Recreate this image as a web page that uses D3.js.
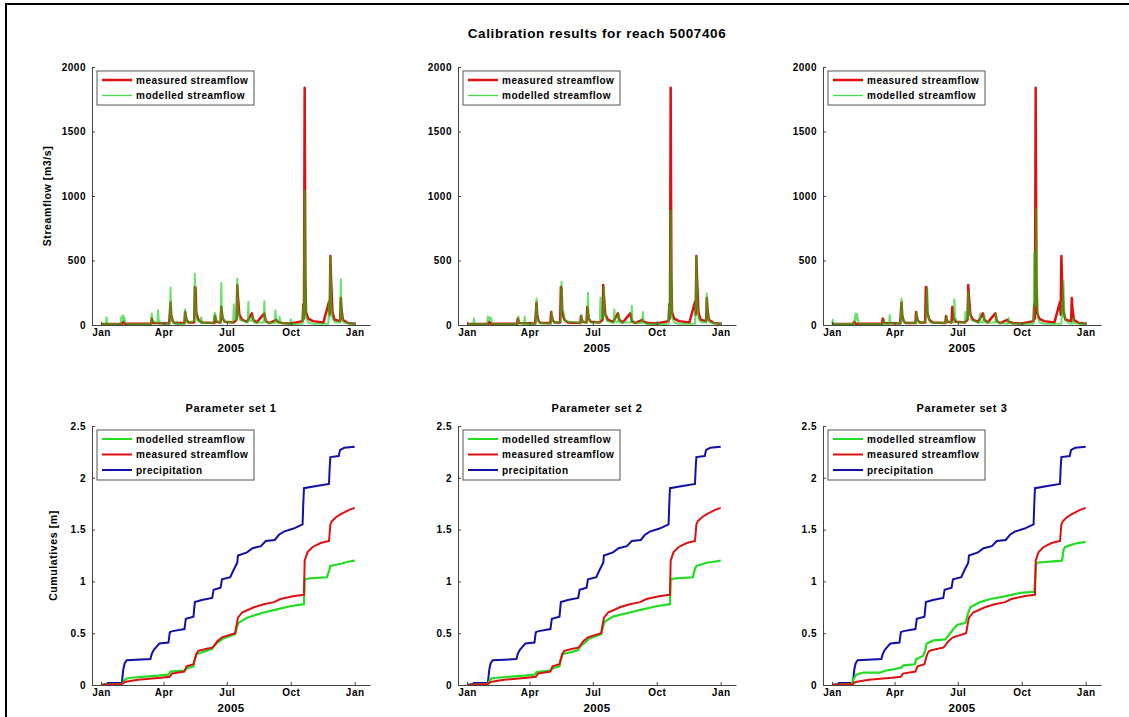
<!DOCTYPE html>
<html>
<head>
<meta charset="utf-8">
<script src="https://cdn.jsdelivr.net/npm/d3@7"></script>
<style>
  body { margin: 0; background: #fff; }
  svg text { font-family: "Liberation Sans", Arial, sans-serif; font-weight: bold; fill: #000; }
</style>
</head>
<body>
<div id="chart"></div>
<script>
// day of year 2005 -> value
const measuredFlow = [
  [0,8],[30,8],[32,25],[34,10],[72,10],[73,50],[75,15],[98,12],[100,175],[101,80],[103,30],[106,15],
  [120,15],[121,100],[123,40],[126,20],[134,20],[135,295],[136,290],[137,100],[140,40],[145,20],
  [163,15],[164,70],[166,25],[172,20],[173,140],[175,50],[178,25],[191,20],[195,40],[196,310],
  [197,220],[199,80],[203,40],[210,25],[217,90],[219,40],[224,20],[235,90],[237,30],[242,15],
  [252,40],[254,25],[260,15],[273,12],[290,30],[291,160],[292,50],[293,1840],[294,385],[295,100],
  [298,50],[305,30],[320,20],[328,180],[329,80],[330,535],[331,350],[333,100],[336,40],[344,30],
  [345,210],[346,120],[348,40],[355,15],[365,10]
];
const modelledFlow1 = [
  [0,5],[7,5],[8,60],[9,10],[28,8],[29,60],[30,40],[31,75],[32,30],[33,65],[34,50],[35,15],[40,5],
  [72,5],[73,90],[74,30],[81,15],[82,115],[83,40],[86,10],[99,10],[100,290],[101,60],[104,15],
  [108,10],[109,25],[110,8],[120,10],[121,120],[122,60],[124,20],[134,30],[135,397],[136,150],
  [138,40],[143,20],[144,60],[146,15],[162,15],[163,80],[164,95],[166,30],[172,20],[173,325],
  [174,80],[177,25],[190,20],[191,160],[192,50],[195,40],[196,360],[197,120],[200,40],[211,20],
  [212,180],[213,40],[217,30],[218,70],[220,20],[234,20],[235,185],[236,40],[240,15],[250,15],
  [251,115],[252,30],[256,15],[257,64],[258,15],[272,8],[273,44],[274,8],[290,10],[291,150],
  [292,40],[293,1040],[294,380],[295,60],[298,20],[305,10],[327,10],[328,180],[329,60],[330,530],
  [331,200],[333,50],[337,20],[344,20],[345,355],[346,80],[349,20],[365,5]
];
const modelledFlow2 = [
  [0,5],[9,5],[10,50],[11,8],[29,5],[30,65],[31,30],[33,60],[35,50],[36,10],[73,5],[74,65],[75,20],
  [82,8],[83,65],[84,10],[99,10],[100,205],[101,60],[104,15],[121,10],[122,103],[123,40],[126,15],
  [135,30],[136,335],[137,120],[139,100],[141,30],[164,15],[165,77],[166,30],[173,20],[174,250],
  [175,60],[178,20],[191,20],[192,214],[193,50],[196,60],[197,300],[198,100],[201,30],[211,15],
  [212,120],[213,30],[217,20],[218,90],[220,20],[236,20],[237,150],[238,40],[242,15],[252,15],
  [253,100],[254,25],[258,10],[273,5],[274,25],[275,5],[290,10],[291,160],[292,50],[293,888],
  [294,390],[295,60],[298,20],[305,10],[328,10],[329,180],[330,530],[331,200],[333,50],[337,20],
  [344,20],[345,245],[346,80],[349,20],[365,5]
];
const modelledFlow3 = [
  [0,5],[1,40],[2,8],[32,8],[33,60],[34,90],[35,40],[36,85],[37,50],[39,10],[74,5],[75,40],[76,10],
  [82,8],[83,77],[84,15],[99,10],[100,205],[101,80],[104,20],[121,15],[122,100],[123,40],[126,15],
  [135,30],[136,180],[137,290],[138,80],[141,20],[164,15],[165,70],[166,30],[175,20],[176,200],
  [177,60],[180,20],[191,20],[192,100],[193,40],[195,60],[196,257],[197,140],[200,40],[212,15],
  [213,90],[214,25],[218,20],[219,80],[221,20],[235,20],[236,90],[237,30],[241,15],[253,10],
  [254,55],[255,15],[260,10],[290,10],[291,565],[292,200],[293,150],[294,900],[295,365],[296,60],
  [299,20],[305,10],[330,10],[331,180],[332,60],[333,340],[334,120],[336,40],[340,15],[346,10],
  [347,50],[348,15],[365,5]
];

// cumulatives [m]
const precipCum = [
  [0,0],[8,0.01],[10,0.02],[30,0.02],[32,0.15],[34,0.21],[37,0.24],[71,0.25],[73,0.3],[76,0.34],
  [80,0.37],[84,0.4],[97,0.41],[99,0.51],[103,0.52],[120,0.54],[122,0.64],[133,0.66],[135,0.8],
  [145,0.82],[160,0.84],[162,0.92],[172,0.94],[174,1.02],[186,1.04],[190,1.1],[196,1.18],[197,1.25],
  [210,1.28],[218,1.32],[230,1.34],[237,1.39],[250,1.4],[256,1.45],[263,1.48],[277,1.51],[290,1.55],
  [291,1.75],[292,1.9],[310,1.92],[328,1.94],[329,2.1],[330,2.2],[342,2.21],[344,2.27],[350,2.29],
  [365,2.3]
];
const measuredCum = [
  [0,0],[30,0.01],[34,0.03],[53,0.05],[86,0.07],[99,0.08],[102,0.11],[120,0.13],[123,0.18],[133,0.2],
  [135,0.25],[137,0.3],[140,0.33],[152,0.35],[160,0.36],[164,0.39],[167,0.42],[174,0.46],[193,0.5],
  [195,0.58],[197,0.65],[203,0.7],[220,0.75],[234,0.78],[249,0.8],[258,0.83],[278,0.86],[292,0.87],
  [293,1.2],[297,1.28],[304,1.33],[316,1.37],[328,1.39],[330,1.55],[332,1.58],[338,1.62],[345,1.65],
  [357,1.69],[365,1.71]
];
const modelledCum1 = [
  [0,0],[30,0.01],[33,0.04],[36,0.06],[43,0.07],[82,0.09],[97,0.1],[100,0.13],[120,0.14],[123,0.16],
  [133,0.18],[135,0.25],[138,0.3],[152,0.33],[160,0.35],[164,0.39],[170,0.42],[176,0.45],[193,0.49],
  [196,0.57],[198,0.6],[210,0.65],[234,0.7],[253,0.73],[272,0.76],[292,0.78],[293,1.02],[300,1.03],
  [325,1.04],[328,1.1],[330,1.15],[345,1.17],[355,1.19],[365,1.2]
];
const modelledCum2 = [
  [0,0],[30,0.01],[33,0.05],[36,0.065],[43,0.07],[82,0.09],[97,0.1],[100,0.125],[120,0.14],[123,0.16],
  [133,0.18],[135,0.25],[138,0.3],[152,0.32],[160,0.34],[164,0.38],[170,0.41],[176,0.45],[193,0.49],
  [196,0.57],[198,0.61],[210,0.66],[234,0.7],[253,0.73],[272,0.76],[292,0.78],[293,1.02],[300,1.03],
  [325,1.04],[328,1.12],[330,1.15],[345,1.18],[355,1.19],[365,1.2]
];
const modelledCum3 = [
  [0,0],[28,0.01],[31,0.06],[35,0.1],[45,0.12],[69,0.12],[78,0.14],[88,0.15],[100,0.17],[103,0.19],
  [119,0.2],[121,0.25],[131,0.28],[134,0.33],[136,0.4],[146,0.43],[163,0.44],[170,0.5],[176,0.55],
  [180,0.58],[192,0.6],[196,0.7],[199,0.75],[213,0.8],[228,0.83],[252,0.86],[271,0.89],[291,0.9],
  [293,1.1],[294,1.18],[331,1.2],[333,1.3],[335,1.33],[343,1.35],[353,1.37],[365,1.38]
];

const flowTicks = [0, 500, 1000, 1500, 2000];
const cumTicks = [0, 0.5, 1, 1.5, 2, 2.5];
const monthTicks = ["2005-01-01", "2005-04-01", "2005-07-01", "2005-10-01", "2006-01-01"];
const panelTitles = ["Parameter set 1", "Parameter set 2", "Parameter set 3"];

const W = 1129, H = 717;
const red = "#dd1111", green = "#22dd22", blue = "#1111aa";
const t0 = Date.UTC(2005, 0, 1);
const toDate = d => new Date(t0 + d * 864e5);

const svg = d3.select("#chart").append("svg")
    .attr("width", W)
    .attr("height", H);

svg.append("rect").attr("width", W).attr("height", H).attr("fill", "#fff");
// frame edges
svg.append("line").attr("x1", 5).attr("x2", W).attr("y1", 4).attr("y2", 4)
    .attr("stroke", "#000").attr("stroke-width", 2);
svg.append("line").attr("x1", 6).attr("x2", 6).attr("y1", 3).attr("y2", H)
    .attr("stroke", "#000").attr("stroke-width", 2);

const colX = [92, 458, 823];
const pw = 278;

var x = d3.scaleUtc()
    .domain([new Date(Date.UTC(2004, 11, 19)), new Date(Date.UTC(2006, 0, 23))])
    .range([0, pw]);

function drawAxes(g, y, yTicks, ph, yfmt) {
  var xa = g.append("g").attr("transform", "translate(0," + ph + ")")
      .call(d3.axisBottom(x)
        .tickValues(monthTicks.map(s => new Date(s + "T00:00:00Z")))
        .tickFormat(d3.utcFormat("%b"))
        .tickSizeInner(-3).tickSizeOuter(0).tickPadding(4));
  var ya = g.append("g")
      .call(d3.axisLeft(y).tickValues(yTicks).tickFormat(yfmt)
        .tickSizeInner(-3).tickSizeOuter(0).tickPadding(6));
  [xa, ya].forEach(a => {
    a.select(".domain").attr("stroke", "#444");
    a.selectAll(".tick line").attr("stroke", "#444");
    a.selectAll("text").attr("font-size", "10px").attr("letter-spacing", "0.5px")
      .attr("font-family", "Liberation Sans, Arial, sans-serif")
      .attr("font-weight", "bold").attr("fill", "#000");
  });
  g.append("text")
      .attr("x", pw / 2).attr("y", ph + 27)
      .attr("text-anchor", "middle")
      .attr("font-size", "11.5px").attr("letter-spacing", "0.3px")
      .text("2005");
}

function legend(g, items, h) {
  var lg = g.append("g").attr("transform", "translate(5,4)");
  lg.append("rect").attr("width", 157).attr("height", h)
      .attr("fill", "#fff").attr("stroke", "#555").attr("stroke-width", 1);
  items.forEach((it, i) => {
    var yy = 9 + i * 15.5;
    lg.append("line").attr("x1", 5).attr("x2", 35).attr("y1", yy).attr("y2", yy)
        .attr("stroke", it.color).attr("stroke-width", it.w);
    lg.append("text").attr("x", 39).attr("y", yy + 3.5)
        .attr("font-size", "10px").attr("letter-spacing", "0.5px")
        .text(it.name);
  });
}

// top row: streamflow
const topY = 67, topH = 258;
var yFlow = d3.scaleLinear().domain([0, 2000]).range([topH, 0]);
var flowLine = d3.line().x(d => x(toDate(d[0]))).y(d => yFlow(d[1]));

[modelledFlow1, modelledFlow2, modelledFlow3].forEach((mod, i) => {
  var g = svg.append("g").attr("transform", "translate(" + colX[i] + "," + topY + ")");
  g.append("path").datum(measuredFlow).attr("d", flowLine)
      .attr("fill", "none").attr("stroke", red).attr("stroke-width", 2.5)
      .attr("stroke-linejoin", "round");
  g.append("path").datum(mod).attr("d", flowLine)
      .attr("fill", "none").attr("stroke", "#11cc11").attr("stroke-width", 2)
      .attr("stroke-opacity", 0.62).attr("stroke-linejoin", "round");
  drawAxes(g, yFlow, flowTicks, topH, d3.format("d"));
  legend(g, [
    { name: "measured streamflow", color: red, w: 2.5 },
    { name: "modelled streamflow", color: "#44dd44", w: 1.3 }
  ], 34);
  if (i === 0) {
    g.append("text")
        .attr("transform", "translate(-41," + topH / 2 + ") rotate(-90)")
        .attr("text-anchor", "middle").attr("font-size", "10.5px")
        .attr("letter-spacing", "0.6px")
        .text("Streamflow [m3/s]");
  }
});

svg.append("text")
    .attr("x", colX[1] + pw / 2).attr("y", 38)
    .attr("text-anchor", "middle").attr("font-size", "13.5px")
    .attr("letter-spacing", "0.6px")
    .text("Calibration results for reach 5007406");

// bottom row: cumulatives
const botY = 426, botH = 259;
var yCum = d3.scaleLinear().domain([0, 2.5]).range([botH, 0]);
var cumLine = d3.line().x(d => x(toDate(d[0]))).y(d => yCum(d[1]));

[modelledCum1, modelledCum2, modelledCum3].forEach((mod, i) => {
  var g = svg.append("g").attr("transform", "translate(" + colX[i] + "," + botY + ")");
  g.append("path").datum(precipCum).attr("d", cumLine)
      .attr("fill", "none").attr("stroke", blue).attr("stroke-width", 2);
  g.append("path").datum(mod).attr("d", cumLine)
      .attr("fill", "none").attr("stroke", green).attr("stroke-width", 2.2);
  g.append("path").datum(measuredCum).attr("d", cumLine)
      .attr("fill", "none").attr("stroke", red).attr("stroke-width", 2);
  drawAxes(g, yCum, cumTicks, botH, d => String(d));
  legend(g, [
    { name: "modelled streamflow", color: green, w: 2 },
    { name: "measured streamflow", color: red, w: 2 },
    { name: "precipitation", color: blue, w: 2 }
  ], 50);
  g.append("text")
      .attr("x", pw / 2).attr("y", -14)
      .attr("text-anchor", "middle").attr("font-size", "11px")
      .attr("letter-spacing", "0.6px")
      .text(panelTitles[i]);
  if (i === 0) {
    g.append("text")
        .attr("transform", "translate(-35," + botH / 2 + ") rotate(-90)")
        .attr("text-anchor", "middle").attr("font-size", "10.5px")
        .attr("letter-spacing", "0.6px")
        .text("Cumulatives [m]");
  }
});
</script>
</body>
</html>
